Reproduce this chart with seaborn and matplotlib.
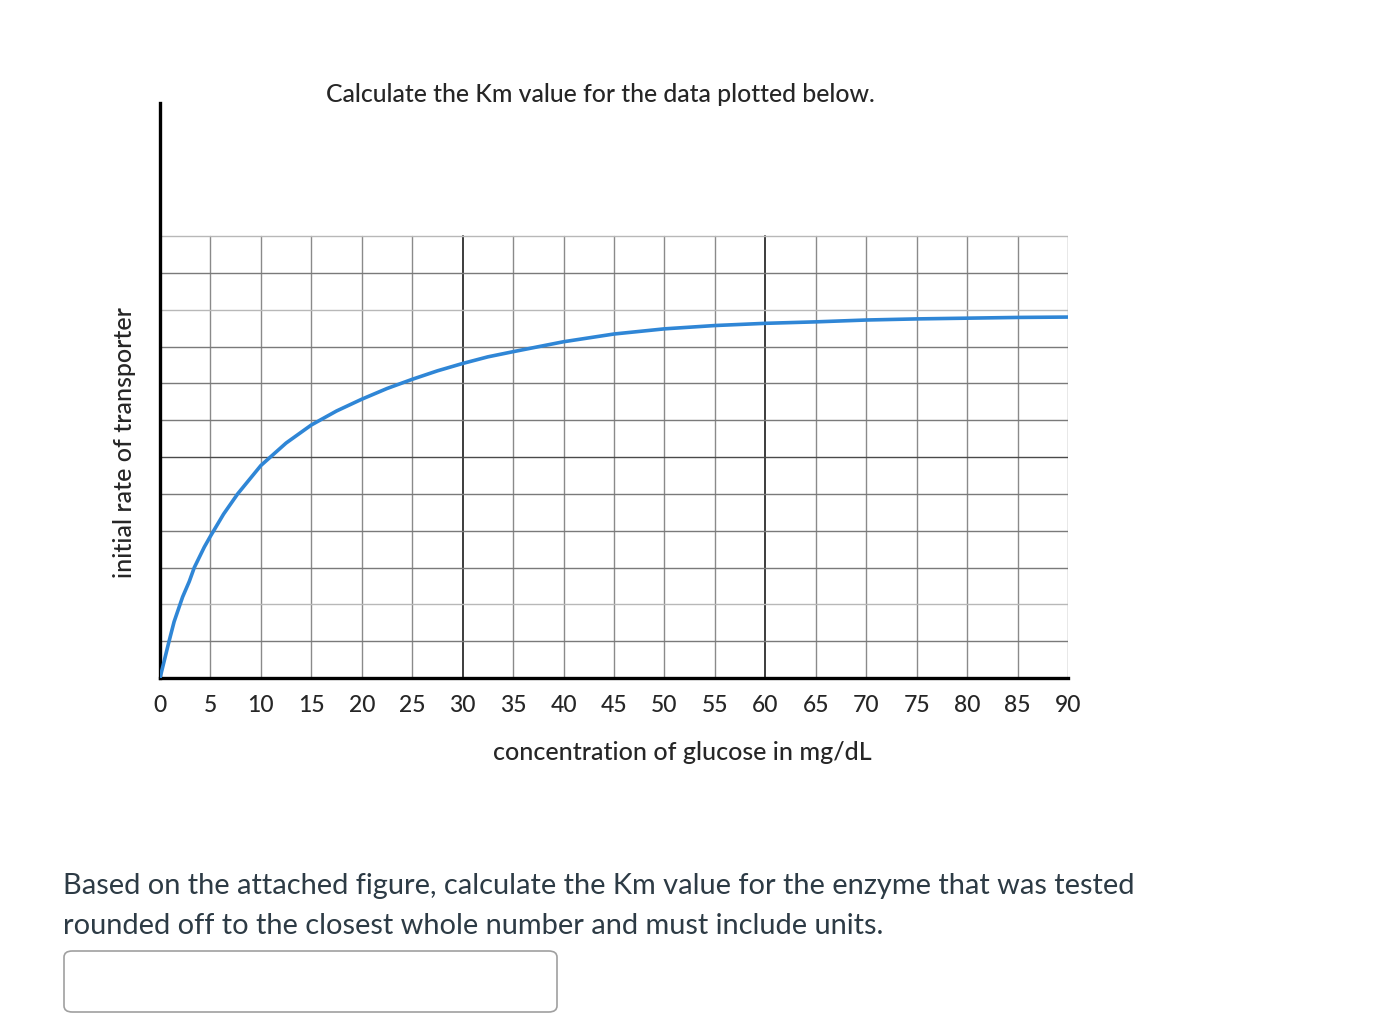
import matplotlib
matplotlib.use("Agg")
import matplotlib.pyplot as plt
from matplotlib.patches import FancyBboxPatch
import seaborn as sns
import pandas as pd

# Werte (y in Rasterkästchen)
conc = [0, 0.9, 1.4, 2.24, 2.9, 3.4, 4.4, 5, 6.3, 7.7, 10, 12.5, 15, 17.5, 20, 22.5, 25, 27.5,
        30, 32.5, 35, 40, 45, 50, 55, 60, 65, 70, 75, 80, 85, 90]
rate = [0, 1.0, 1.53, 2.2, 2.62, 3.0, 3.56, 3.85, 4.45, 5.0, 5.77, 6.38, 6.87, 7.25, 7.57,
        7.86, 8.11, 8.34, 8.54, 8.72, 8.86, 9.13, 9.34, 9.48, 9.57, 9.63, 9.67, 9.72, 9.75,
        9.77, 9.79, 9.8]
x_ticks = list(range(0, 95, 5))
grid_rows = list(range(0, 13))

title = "Calculate the Km value for the data plotted below."
xlabel = "concentration of glucose in mg/dL"
ylabel = "initial rate of transporter"
question = ("Based on the attached figure, calculate the Km value for the enzyme that was tested\n"
            "rounded off to the closest whole number and must include units.")

sns.set_theme(style="white")
plt.rcParams['font.family'] = ['Lato', 'DejaVu Sans']

df = pd.DataFrame({"conc": conc, "rate": rate})

fig = plt.figure(figsize=(13.8, 10.3), dpi=100)
ax = fig.add_axes([160 / 1380, 1 - 678 / 1030, 908 / 1380, (678 - 103) / 1030])

# Raster
for xv in x_ticks[1:]:
    dark = xv in (30, 60)
    ax.plot([xv, xv], [0, 12], color="#3c3c3c" if dark else "#8a8a8a",
            lw=1.4 if dark else 1.0, zorder=1)
for yv in grid_rows[1:]:
    col = "#b8b8b8" if yv in (12, 10, 2) else "#7a7a7a"
    if yv == 6:
        col = "#4a4a4a"
    ax.plot([0, 90], [yv, yv], color=col, lw=1.0, zorder=1)

sns.lineplot(data=df, x="conc", y="rate", ax=ax, color="#2f86d6", lw=2.6, zorder=3,
             solid_joinstyle="round")

ax.set_xlim(0, 90)
ax.set_ylim(0, (678 - 103) / 36.83)
ax.set_xticks(x_ticks)
ax.set_xticklabels([str(v) for v in x_ticks], fontsize=16.5, fontweight="medium")
ax.set_yticks([])
ax.tick_params(axis="x", length=0, pad=12)
for s in ["top", "right"]:
    ax.spines[s].set_visible(False)
ax.spines["left"].set_linewidth(2.4)
ax.spines["bottom"].set_linewidth(2.4)
ax.spines["left"].set_color("black")
ax.spines["bottom"].set_color("black")
ax.set_xlabel(xlabel, fontsize=18, fontweight="medium")
ax.xaxis.set_label_coords((682 - 160) / 908, -(753 - 678) / 575)
ax.xaxis.label.set_va("center")
ax.set_ylabel(ylabel, fontsize=18, fontweight="medium")
ax.yaxis.set_label_coords(-(160 - 125) / 908, (678 - 443) / 575)
ax.yaxis.label.set_va("center")

fig.text(600 / 1380, 1 - 95 / 1030, title, ha="center", va="center",
         fontsize=17.8, fontweight="medium")
fig.text(63 / 1380, 1 - 906 / 1030, question, ha="left", va="center",
         fontsize=20.9, linespacing=1.68, color="#2d3b45")

box = FancyBboxPatch((64 / 1380, 1 - 1012 / 1030), 493 / 1380, 61 / 1030,
                     boxstyle="round,pad=0,rounding_size=0.006",
                     transform=fig.transFigure, fill=False,
                     edgecolor="#a0a0a0", lw=1.2)
fig.patches.append(box)

fig.savefig("out.png", dpi=100, facecolor="white")
